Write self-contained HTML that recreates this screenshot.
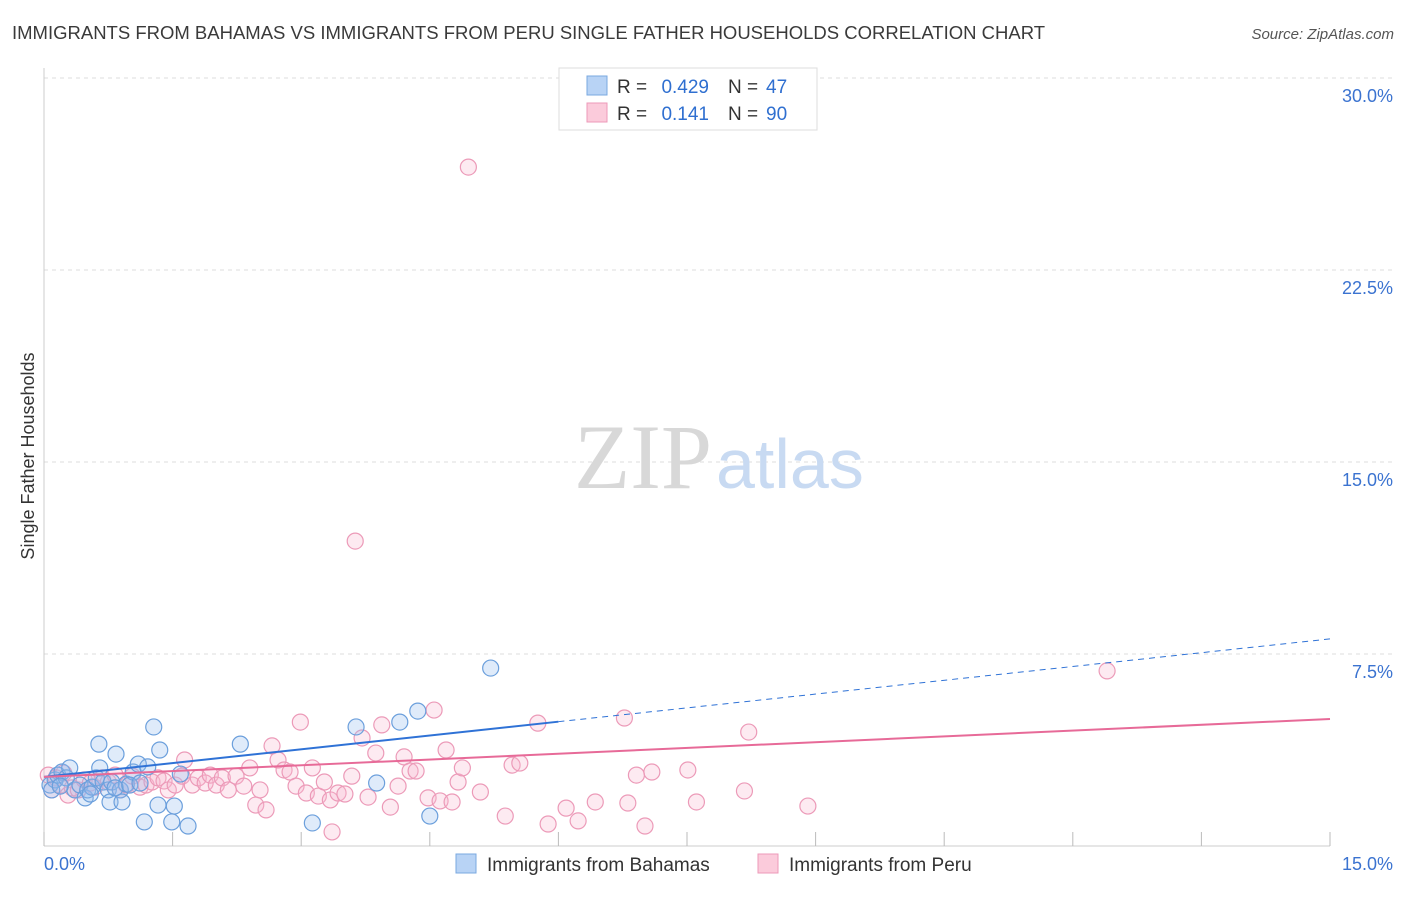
<!DOCTYPE html>
<html><head><meta charset="utf-8"><style>
body{margin:0;background:#fff;font-family:"Liberation Sans",sans-serif}
</style></head><body>
<svg width="1406" height="892" xmlns="http://www.w3.org/2000/svg" style="font-family:'Liberation Sans',sans-serif">
<text x="12" y="39" font-size="18.5" fill="#3a3a3a">IMMIGRANTS FROM BAHAMAS VS IMMIGRANTS FROM PERU SINGLE FATHER HOUSEHOLDS CORRELATION CHART</text>
<text x="1394" y="39" font-size="15" fill="#555" font-style="italic" text-anchor="end">Source: ZipAtlas.com</text>
<g id="grid"></g>
<g id="yt"></g>
<g id="xt"></g>
<text x="712" y="488" font-size="92" fill="#d8d8d8" font-family="Liberation Serif,serif" text-anchor="end">ZIP</text>
<text x="716" y="488" font-size="70" fill="#c8daf2">atlas</text>
<text transform="translate(34,456) rotate(-90)" font-size="18" fill="#333" text-anchor="middle">Single Father Households</text>
<g id="pts"></g>
<g id="lines"></g>
<g>
<rect x="559" y="68" width="258" height="62" fill="#fff" stroke="#ddd"/>
<rect x="587" y="76" width="20" height="19" fill="#b8d3f5" stroke="#7aa8e0"/>
<rect x="587" y="103" width="20" height="19" fill="#fbcbdb" stroke="#ec9ab8"/>
<text x="617" y="93" font-size="19" fill="#333">R =</text>
<text x="709" y="93" font-size="19" fill="#2f6fd0" text-anchor="end">0.429</text>
<text x="728" y="93" font-size="19" fill="#333">N =</text>
<text x="766" y="93" font-size="19" fill="#2f6fd0">47</text>
<text x="617" y="120" font-size="19" fill="#333">R =</text>
<text x="709" y="120" font-size="19" fill="#2f6fd0" text-anchor="end">0.141</text>
<text x="728" y="120" font-size="19" fill="#333">N =</text>
<text x="766" y="120" font-size="19" fill="#2f6fd0">90</text>
</g>
<g>
<rect x="456" y="854" width="20" height="19" fill="#b8d3f5" stroke="#7aa8e0"/>
<text x="487" y="871" font-size="19" fill="#333">Immigrants from Bahamas</text>
<rect x="758" y="854" width="20" height="19" fill="#fbcbdb" stroke="#ec9ab8"/>
<text x="789" y="871" font-size="19" fill="#333">Immigrants from Peru</text>
</g>
</svg>
<script>
const yTicks=[7.5,15,22.5,30];
const yTickLabels=["7.5%","15.0%","22.5%","30.0%"];
const xTickVals=[0,1.5,3,4.5,6,7.5,9,10.5,12,13.5,15];
const bahamasX=[0.07,0.13,0.16,0.21,0.26,0.30,0.36,0.42,0.48,0.51,0.56,0.61,0.64,0.65,0.69,0.75,0.77,0.79,0.84,0.89,0.91,0.96,1.04,1.10,1.17,1.21,1.28,1.33,1.35,1.49,1.52,1.59,1.68,2.29,3.13,3.64,3.88,4.15,4.36,4.50,5.21,0.09,0.19,0.54,0.83,1.00,1.12];
const bahamasY=[2.38,2.58,2.77,2.89,2.66,3.05,2.19,2.38,1.88,2.19,2.30,2.66,3.98,3.05,2.50,2.19,1.72,2.50,3.59,2.19,1.72,2.42,2.89,3.20,0.94,3.09,4.65,1.60,3.75,0.94,1.56,2.81,0.78,3.98,0.90,4.65,2.46,4.84,5.27,1.17,6.95,2.19,2.34,2.03,2.27,2.38,2.46];
const peruX=[0.05,0.09,0.14,0.19,0.23,0.28,0.33,0.40,0.47,0.54,0.59,0.68,0.75,0.83,0.89,0.96,1.03,1.12,1.19,1.26,1.33,1.40,1.45,1.53,1.61,1.64,1.73,1.80,1.88,1.94,2.01,2.08,2.15,2.24,2.33,2.40,2.47,2.52,2.59,2.66,2.73,2.80,2.87,2.94,2.99,3.06,3.13,3.20,3.27,3.34,3.36,3.43,3.51,3.59,3.63,3.71,3.78,3.87,3.94,4.04,4.13,4.20,4.27,4.34,4.48,4.55,4.62,4.69,4.76,4.83,4.88,4.95,5.09,5.38,5.46,5.55,5.76,5.88,6.09,6.23,6.43,6.77,6.81,6.91,7.01,7.09,7.51,7.61,8.17,8.22,8.91,12.40];
const peruY=[2.77,2.19,2.66,2.38,2.85,1.99,2.27,2.19,2.58,2.46,2.30,2.66,2.50,2.77,2.19,2.38,2.73,2.30,2.38,2.50,2.66,2.54,2.19,2.38,2.73,3.36,2.38,2.66,2.46,2.77,2.38,2.66,2.19,2.73,2.34,3.05,1.60,2.19,1.41,3.91,3.36,2.97,2.89,2.34,4.84,2.07,3.05,1.95,2.50,1.80,0.55,2.07,2.03,2.73,11.91,4.22,1.91,3.63,4.73,1.52,2.34,3.48,2.93,2.93,1.88,5.31,1.76,3.75,1.72,2.50,3.05,26.52,2.11,1.17,3.16,3.24,4.80,0.86,1.48,0.98,1.72,5.00,1.68,2.77,0.78,2.89,2.97,1.72,2.15,4.45,1.56,6.84];
const bahamasTrend=[2.70,8.09];
const bahamasSolidEnd=6.0;
const peruTrend=[2.70,4.96];

const NS="http://www.w3.org/2000/svg";
const X0=44,X1=1330,Y0=846,PXY=25.6;
const sx=v=>X0+v/15*(X1-X0);
const sy=v=>Y0-v*PXY;
function mk(tag,attrs,parent){const e=document.createElementNS(NS,tag);for(const k in attrs)e.setAttribute(k,attrs[k]);parent.appendChild(e);return e;}
const grid=document.getElementById('grid'),yt=document.getElementById('yt'),xt=document.getElementById('xt');
yTicks.forEach((t,i)=>{
  const l=mk('line',{x1:X0,x2:1394,y1:sy(t),y2:sy(t),stroke:'#ddd','stroke-dasharray':'4,4'},grid);
  
  
  const tx=mk('text',{x:1393,y:sy(t)+24,'font-size':18,fill:'#3b73d0','text-anchor':'end'},yt);
  tx.textContent=yTickLabels[i];
  
  
});
mk('line',{x1:X0,x2:X0,y1:68,y2:Y0,stroke:'#ccc'},grid);
mk('line',{x1:X0,x2:X1,y1:Y0,y2:Y0,stroke:'#ccc'},grid);
xTickVals.forEach(v=>{
  const l=mk('line',{x1:sx(v),x2:sx(v),y1:832,y2:Y0,stroke:'#bbb'},xt);
  
  
});
const xl0=mk('text',{x:44,y:870,'font-size':18,fill:'#3b73d0'},xt);xl0.textContent='0.0%';


const xl1=mk('text',{x:1393,y:870,'font-size':18,fill:'#3b73d0','text-anchor':'end'},xt);xl1.textContent='15.0%';


const pts=document.getElementById('pts');
peruX.forEach((x,i)=>{
  const c=mk('circle',{cx:sx(x),cy:sy(peruY[i]),r:8,fill:'rgba(248,185,208,0.3)',stroke:'#ec9ab8','stroke-width':1.2},pts);
  
  
});
bahamasX.forEach((x,i)=>{
  const c=mk('circle',{cx:sx(x),cy:sy(bahamasY[i]),r:8,fill:'rgba(150,190,240,0.3)',stroke:'#6b9fdc','stroke-width':1.2},pts);
  
  
});
const lines=document.getElementById('lines');
const by=v=>bahamasTrend[0]+(bahamasTrend[1]-bahamasTrend[0])*v/15;
const b1=mk('line',{x1:sx(0),y1:sy(by(0)),x2:sx(bahamasSolidEnd),y2:sy(by(bahamasSolidEnd)),stroke:'#2f72d6','stroke-width':2},lines);


const b2=mk('line',{x1:sx(bahamasSolidEnd),y1:sy(by(bahamasSolidEnd)),x2:sx(15),y2:sy(by(15)),stroke:'#2f72d6','stroke-width':1,'stroke-dasharray':'6,5'},lines);


const p1=mk('line',{x1:sx(0),y1:sy(peruTrend[0]),x2:sx(15),y2:sy(peruTrend[1]),stroke:'#e76a98','stroke-width':2},lines);


</script>
</body></html>
